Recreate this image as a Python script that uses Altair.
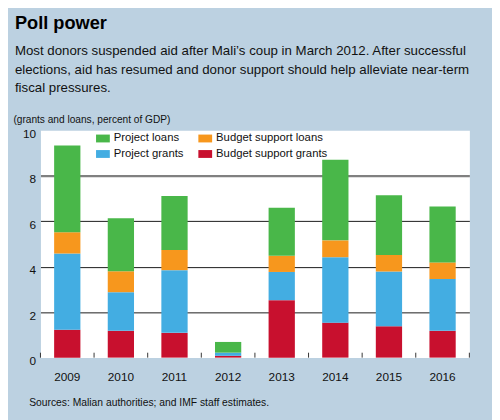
import altair as alt
import pandas as pd

# ---- data ----
years = ["2009", "2010", "2011", "2012", "2013", "2014", "2015", "2016"]
budget_support_grants = [1.23, 1.18, 1.09, 0.08, 2.53, 1.54, 1.38, 1.18]
project_grants = [3.35, 1.70, 2.76, 0.14, 1.24, 2.88, 2.41, 2.28]
budget_support_loans = [0.94, 0.92, 0.89, 0.00, 0.71, 0.74, 0.73, 0.73]
project_loans = [3.82, 2.33, 2.37, 0.47, 2.11, 3.55, 2.63, 2.46]

stack_series = ["Budget support grants", "Project grants", "Budget support loans", "Project loans"]
legend_order = ["Project loans", "Project grants", "Budget support loans", "Budget support grants"]
series_colors = {
    "Project loans": "#49B749",
    "Budget support loans": "#F7971D",
    "Project grants": "#43ADE2",
    "Budget support grants": "#C8102E",
}
y_ticks = [0, 2, 4, 6, 8, 10]

title_text = "Poll power"
subtitle_lines = [
    "Most donors suspended aid after Mali\u2019s coup in March 2012. After successful",
    "elections, aid has resumed and donor support should help alleviate near-term",
    "fiscal pressures.",
]
units_text = "(grants and loans, percent of GDP)"
source_text = "Sources: Malian authorities; and IMF staff estimates."

series_values = {
    "Budget support grants": budget_support_grants,
    "Project grants": project_grants,
    "Budget support loans": budget_support_loans,
    "Project loans": project_loans,
}
rows = []
for k, name in enumerate(stack_series):
    for yr, v in zip(years, series_values[name]):
        rows.append({"year": yr, "series": name, "value": v, "stack": k})
df = pd.DataFrame(rows)
tick_df = pd.DataFrame({"year": years})
end_df = pd.DataFrame({"year": years[-1:]})

FONT = "Liberation Sans, Arial, sans-serif"
W, H = 436, 231

x_scale = alt.Scale(domain=years, paddingInner=0, paddingOuter=0)

bars = alt.Chart(df).mark_bar(width=alt.RelativeBandSize(0.49)).encode(
    x=alt.X("year:N", scale=x_scale, sort=years,
            axis=alt.Axis(title=source_text, labelAngle=0, labelFontSize=12,
                          labelColor="#111", labelPadding=14, tickSize=0, domain=False,
                          titleX=-12, titleY=48.5, titleAlign="left",
                          titleBaseline="alphabetic", titleFontSize=10.5,
                          titleFontWeight="normal", titleColor="#111")),
    y=alt.Y("value:Q", stack="zero",
            scale=alt.Scale(domain=[0, 10], nice=False),
            axis=alt.Axis(values=y_ticks, title=units_text, titleAngle=0,
                          titleX=-28, titleY=-8.5, titleAlign="left",
                          titleBaseline="alphabetic", titleFontSize=10.3,
                          titleFontWeight="normal", titleColor="#111",
                          labelFontSize=12, labelColor="#111", labelPadding=5,
                          labelOffset=3, tickSize=0, domain=False,
                          gridColor={"condition": {"test": "datum.value === 8", "value": "#808080"}, "value": "#1a1a1a"},
                          gridWidth={"condition": {"test": "datum.value === 8", "value": 2.5}, "value": 1},
                          gridOpacity={"condition": {"test": "datum.value === 0 || datum.value === 10", "value": 0}, "value": 1})),
    color=alt.Color("series:N",
                    scale=alt.Scale(domain=legend_order, range=[series_colors[s] for s in legend_order]),
                    legend=alt.Legend(title=None, orient="none", legendX=56.5, legendY=1,
                                      columns=2, columnPadding=15, rowPadding=3,
                                      symbolType="M-1,-0.57L1,-0.57L1,0.57L-1,0.57Z",
                                      symbolSize=196, symbolStrokeWidth=0, symbolOpacity=1,
                                      labelFontSize=11.5, labelColor="#111", labelOffset=4,
                                      padding=0)),
    order=alt.Order("stack:Q"),
)

ticks = alt.Chart(tick_df).mark_rule(color="#333", strokeWidth=1).encode(
    x=alt.X("year:N", scale=x_scale, sort=years, bandPosition=0),
    y=alt.value(H - 5), y2=alt.value(H),
)
end_tick = alt.Chart(end_df).mark_rule(color="#333", strokeWidth=1).encode(
    x=alt.X("year:N", scale=x_scale, sort=years, bandPosition=1),
    y=alt.value(H - 5), y2=alt.value(H),
)

chart = alt.layer(bars, ticks, end_tick).properties(
    width=W, height=H,
    autosize=alt.AutoSizeParams(type="none"),
    padding={"left": 33, "top": 121, "right": 23, "bottom": 60},
    background="#BCD1E1",
    title=alt.TitleParams(
        text=title_text, subtitle=subtitle_lines, anchor="start", frame="group",
        dx=-26, offset=20, font=FONT, fontSize=18.5, fontWeight="bold",
        color="#000", subtitleFont=FONT, subtitleFontSize=13.5, subtitleColor="#111",
        subtitleLineHeight=18.65, subtitlePadding=12,
    ),
).configure(font=FONT).configure_view(fill="white", stroke="transparent")

chart.save("out.html", embed_options={"renderer": "svg", "actions": False})
